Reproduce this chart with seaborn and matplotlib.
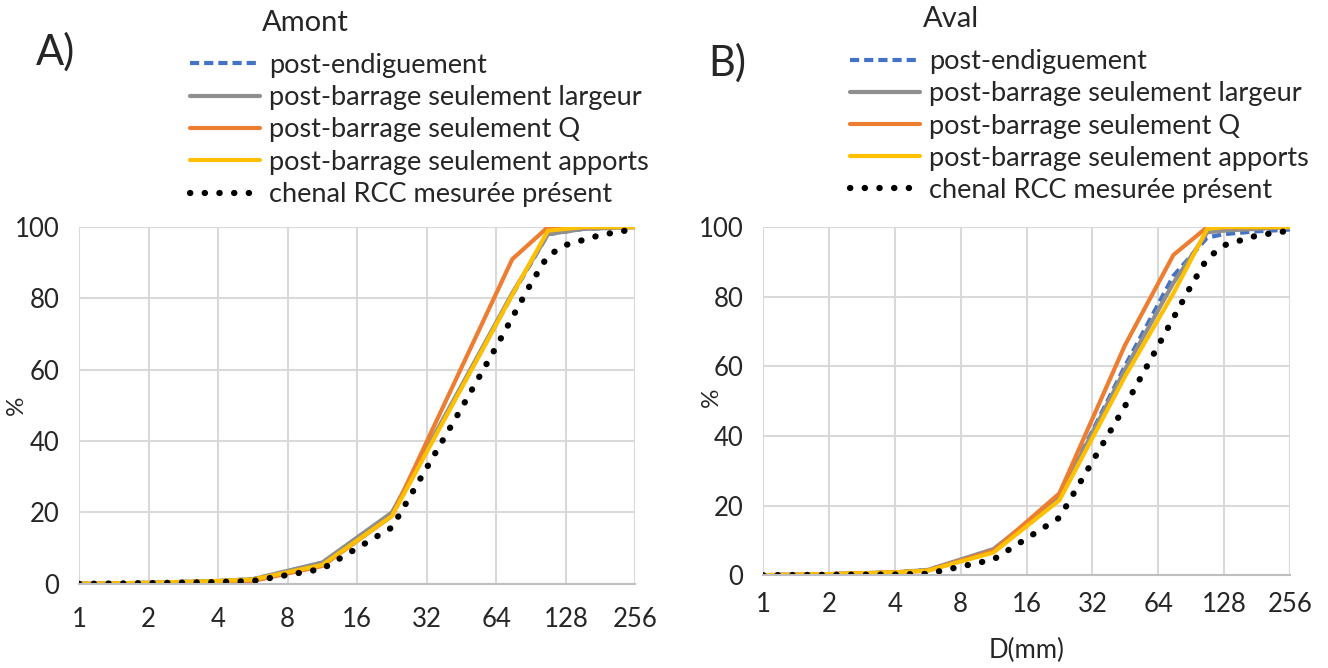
import matplotlib
matplotlib.use("Agg")
import matplotlib.pyplot as plt
import seaborn as sns
import pandas as pd

# noms des séries
series = ["post-endiguement", "post-barrage seulement largeur",
          "post-barrage seulement Q", "post-barrage seulement apports",
          "chenal RCC mesurée présent"]

# A) Amont
x_amont = [1, 2, 4, 5.66, 11.3, 22.6, 75, 107, 152, 256]
amont_endig = [0, 0.3, 0.8, 1.3, 5.8, 19.5, 81, 98, 99.5, 100]
amont_largeur = [0, 0.3, 0.8, 1.3, 6, 20, 81.5, 98, 99.5, 100]
amont_q = [0, 0.2, 0.6, 0.8, 5, 19, 91, 100, 100, 100]
amont_apports = [0, 0.3, 0.8, 1.2, 5.3, 19, 81, 99, 100, 100]
x_amont_rcc = [1, 2, 4, 5.66, 11.3, 22.6, 45, 64, 90, 107, 128, 181, 256]
amont_rcc = [0, 0.2, 0.5, 0.8, 4.2, 15.8, 49, 66.5, 84, 92, 95, 97.8, 99.5]

# B) Aval
x_aval = [1, 2, 4, 5.66, 11.3, 22.6, 45, 75, 107, 128, 181, 256]
aval_endig = [0, 0.3, 0.8, 1.5, 7, 22.5, 60, 86, 97, 98, 98.8, 99.3]
aval_largeur = [0, 0.3, 0.8, 1.5, 7.5, 22.5, 59, 84, 98.5, 99, 99.5, 100]
aval_q = [0, 0.3, 0.8, 1.3, 7, 23.5, 66, 92, 100, 100, 100, 100]
aval_apports = [0, 0.3, 0.8, 1.3, 6.5, 21.5, 57, 81, 99.5, 100, 100, 100]
x_aval_rcc = [1, 2, 4, 5.66, 11.3, 22.6, 45, 64, 90, 107, 128, 181, 256]
aval_rcc = [0, 0.1, 0.2, 0.4, 4.5, 16.5, 48.5, 66, 83, 91, 94.8, 97.6, 99]

ticks = [1, 2, 4, 8, 16, 32, 64, 128, 256]

couleurs = ["#4472C4", "#8F8F8F", "#ED7D31", "#FFC000", "black"]

sns.set_style("white")
plt.rcParams["font.family"] = ["Lato", "DejaVu Sans"]

fig = plt.figure(figsize=(13.28, 6.68), dpi=100)
ax_a = fig.add_axes([0.0595, 0.126, 0.419, 0.534])
ax_b = fig.add_axes([0.5745, 0.139, 0.397, 0.521])

FS = 18.5
FS_LEG = 19.5


def tracer(ax, xs, ys, xr, yr, xpad):
    for i in range(4):
        df = pd.DataFrame({"D": xs, "p": ys[i]})
        ls = (0, (2.2, 1.2)) if i == 0 else "-"
        sns.lineplot(data=df, x="D", y="p", ax=ax, color=couleurs[i],
                     linestyle=ls, linewidth=3, label=series[i])
    df = pd.DataFrame({"D": xr, "p": yr})
    l = sns.lineplot(data=df, x="D", y="p", ax=ax, color="black",
                     linewidth=4.5, label=series[4])
    l.lines[-1].set_linestyle((0, (0.05, 2.3)))
    l.lines[-1].set_dash_capstyle("round")

    ax.set_xscale("log", base=2)
    ax.set_xlim(1, 256)
    ax.set_ylim(0, 100)
    ax.set_xticks(ticks)
    ax.set_xticklabels([str(t) for t in ticks])
    ax.set_yticks([0, 20, 40, 60, 80, 100])
    ax.minorticks_off()
    ax.grid(True, color="#D9D9D9", linewidth=1.5)
    ax.set_axisbelow(True)
    for s in ["top", "right", "left"]:
        ax.spines[s].set_visible(False)
    ax.spines["bottom"].set_color("#BFBFBF")
    ax.spines["bottom"].set_linewidth(1.5)
    ax.tick_params(length=0, labelsize=FS, colors="#262626")
    ax.tick_params(axis="x", pad=xpad)
    ax.tick_params(axis="y", pad=14)
    ax.set_ylabel("%", fontsize=FS - 1)
    ax.set_xlabel("")


tracer(ax_a, x_amont, [amont_endig, amont_largeur, amont_q, amont_apports],
       x_amont_rcc, amont_rcc, 17)
tracer(ax_b, x_aval, [aval_endig, aval_largeur, aval_q, aval_apports],
       x_aval_rcc, aval_rcc, 12)
ax_a.yaxis.set_label_coords(-0.094, 0.50)
ax_b.yaxis.set_label_coords(-0.077, 0.51)
ax_b.set_xlabel("D(mm)", fontsize=FS, labelpad=15)

# légendes au-dessus des graphes
ax_a.legend(loc="upper left", bbox_to_anchor=(0.143, 0.921),
            bbox_transform=fig.transFigure, frameon=False, fontsize=FS_LEG,
            handlelength=2.6, handletextpad=0.33, labelspacing=0.27,
            borderpad=0, borderaxespad=0)
ax_b.legend(loc="upper left", bbox_to_anchor=(0.640, 0.926),
            bbox_transform=fig.transFigure, frameon=False, fontsize=FS_LEG,
            handlelength=2.6, handletextpad=0.33, labelspacing=0.26,
            borderpad=0, borderaxespad=0)

fig.text(0.230, 0.965, "Amont", fontsize=21, ha="center", va="center")
fig.text(0.716, 0.972, "Aval", fontsize=21, ha="center", va="center")
fig.text(0.042, 0.922, "A)", fontsize=30, ha="center", va="center")
fig.text(0.548, 0.905, "B)", fontsize=30, ha="center", va="center")

fig.savefig("out.png", dpi=100)
